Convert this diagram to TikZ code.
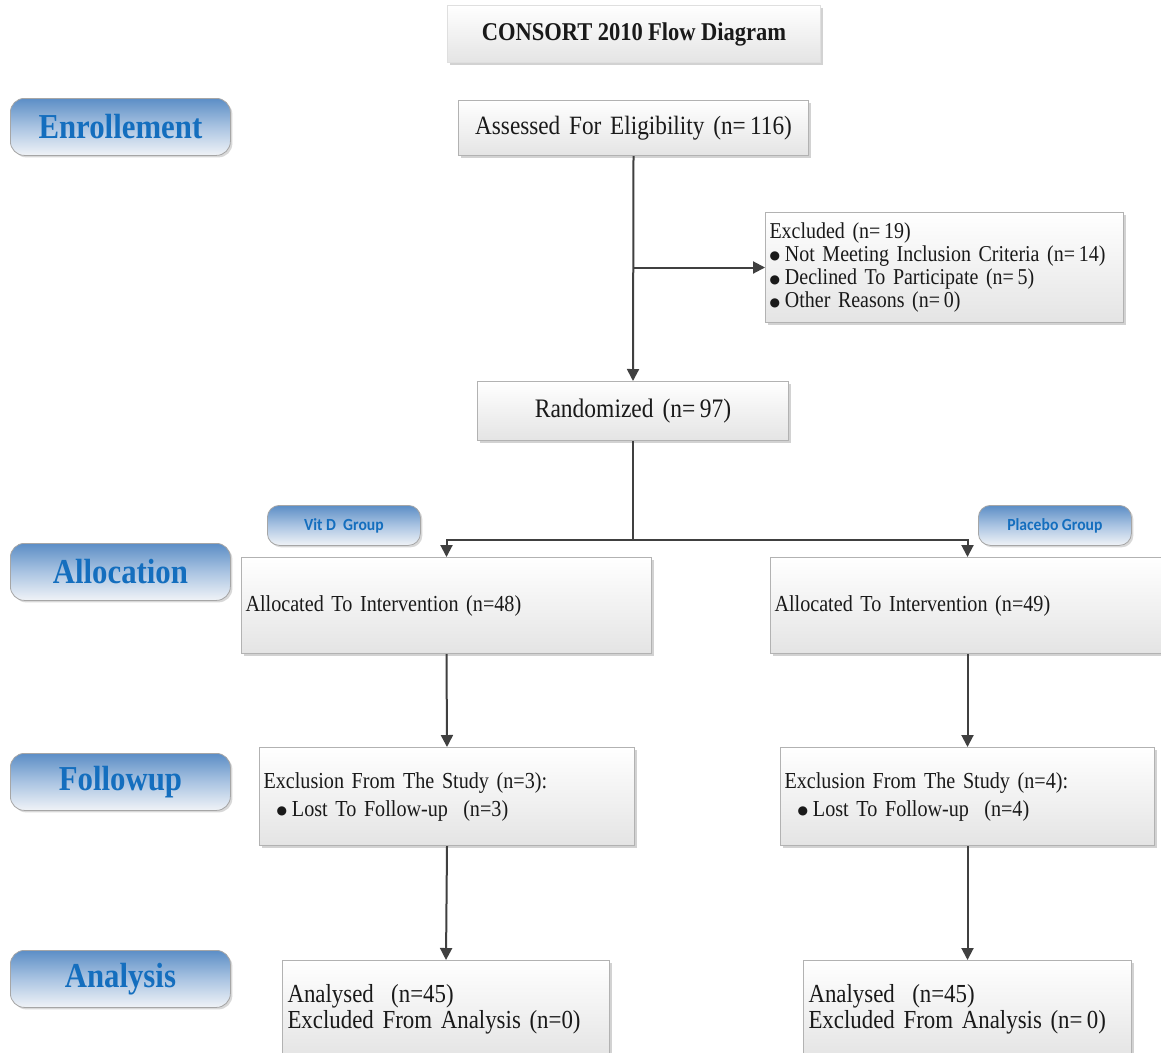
\documentclass[tikz,border=0pt]{standalone}
\usepackage{fontspec}
\setmainfont{Liberation Serif}[FakeStretch=0.88]
\newfontfamily\grpfont{Carlito}[FakeStretch=0.92]
\newfontfamily\symfont{DejaVu Sans}
\usetikzlibrary{arrows.meta,shadows}
\definecolor{labblue}{RGB}{20,110,190}
\definecolor{labtop}{RGB}{92,142,198}
\definecolor{labmid}{RGB}{170,196,226}
\definecolor{labbot}{RGB}{240,243,247}
\definecolor{linec}{RGB}{64,64,64}
\definecolor{boxbot}{RGB}{228,228,228}
\newcommand{\fs}[2]{\fontsize{#1pt}{#2pt}\selectfont\spaceskip=0.21em plus 0.05em minus 0.02em\relax}
\newcommand{\blt}{\raisebox{1.5pt}{\symfont\fontsize{12pt}{12pt}\selectfont ●}\hspace{5pt}}
\begin{document}
\begin{tikzpicture}[x=1pt,y=-1pt,
  flowbox/.style={draw=gray!60, line width=1pt, top color=white, bottom color=boxbot,
    drop shadow={shadow xshift=2pt, shadow yshift=-2pt, opacity=0.35, fill=gray},
    anchor=north west, inner xsep=4pt, inner ysep=0pt, align=left, text=black!90},
  stagelab/.style={draw=gray!70, line width=0.8pt, rounded corners=14pt,
    top color=labtop, bottom color=labbot, middle color=labmid,
    drop shadow={shadow xshift=2pt, shadow yshift=-2pt, opacity=0.3, fill=gray},
    anchor=north west, minimum width=220pt, minimum height=57pt, inner sep=0pt,
    text=labblue, font=\bfseries\fs{35}{38}},
  grplab/.style={draw=gray!70, line width=0.8pt, rounded corners=12pt,
    top color=labtop, bottom color=labbot, middle color=labmid,
    drop shadow={shadow xshift=2pt, shadow yshift=-2pt, opacity=0.3, fill=gray},
    anchor=north west, minimum width=153pt, minimum height=40pt, inner sep=0pt,
    text=labblue, font=\grpfont\bfseries\fs{17}{19}},
  arr/.style={draw=linec, line width=2pt, -{Triangle[length=12pt,width=12pt]}},
  ln/.style={draw=linec, line width=2pt}]
\clip (0,0) rectangle (1161,1052);
\fill[white] (0,0) rectangle (1161,1052);

% title
\node[flowbox, draw=gray!25, minimum width=373pt, minimum height=57pt, align=center,
  font=\bfseries\fs{25.6}{28}] (title) at (447,5) {CONSORT 2010 Flow Diagram};

% stage labels
\node[stagelab] (lenr) at (10,98) {Enrollement};
\node[stagelab] (lall) at (10,543) {Allocation};
\node[stagelab] (lfol) at (10,753) {Followup};
\node[stagelab] (lana) at (10,950) {Analysis};

% group labels
\node[grplab] (gvit) at (267,505) {Vit D\ \ Group};
\node[grplab] (gpla) at (978,505) {Placebo Group};

% boxes
\node[flowbox, minimum width=350pt, minimum height=55pt, text width=342pt, align=center,
  font=\fs{26.4}{30}] (assess) at (458,100) {Assessed For Eligibility (n=\,116)};

\node[flowbox, minimum width=358pt, minimum height=110pt, text width=350pt,
  font=\fs{22.7}{23.3}] (excl) at (765,212)
  {Excluded (n=\,19)\\
   \blt Not Meeting Inclusion Criteria (n=\,14)\\
   \blt Declined To Participate (n=\,5)\\
   \blt Other Reasons (n=\,0)};

\node[flowbox, minimum width=311pt, minimum height=59pt, text width=303pt, align=center,
  font=\fs{26.7}{30}] (rand) at (477,381) {Randomized (n=\,97)};

\node[flowbox, minimum width=410pt, minimum height=96pt, text width=402pt,
  font=\fs{22.9}{26}] (allocL) at (241,557) {Allocated To Intervention (n=48)};
\node[flowbox, minimum width=394pt, minimum height=96pt, text width=386pt,
  font=\fs{22.9}{26}] (allocR) at (770,557) {Allocated To Intervention (n=49)};

\node[flowbox, minimum width=375pt, minimum height=98pt, text width=367pt,
  font=\fs{22.9}{28}] (fuL) at (259,747)
  {Exclusion From The Study (n=3):\\
   \hspace*{13pt}\blt Lost To Follow-up\ \ (n=3)};
\node[flowbox, minimum width=374pt, minimum height=98pt, text width=366pt,
  font=\fs{22.9}{28}] (fuR) at (780,747)
  {Exclusion From The Study (n=4):\\
   \hspace*{13pt}\blt Lost To Follow-up\ \ (n=4)};

\node[flowbox, minimum width=327pt, minimum height=98pt, text width=317pt, inner xsep=5pt,
  font=\fs{26}{26}] (anL) at (282,960)
  {Analysed\ \ (n=45)\\Excluded From Analysis (n=0)};
\node[flowbox, minimum width=328pt, minimum height=98pt, text width=318pt, inner xsep=5pt,
  font=\fs{26}{26}] (anR) at (803,960)
  {Analysed\ \ (n=45)\\Excluded From Analysis (n=\,0)};

% connectors
\coordinate (br) at (assess.south |- excl.west);
\coordinate (split) at (rand.south |- 0,540);
\draw[arr] (assess.south) -- (rand.north);
\draw[arr] (br) -- (excl.west);
\draw[ln] (rand.south) -- (split);
\draw[arr] (split) -| (allocL.north);
\draw[arr] (split) -| (allocR.north);
\draw[arr] (allocL.south) -- (fuL.north);
\draw[arr] (allocR.south) -- (fuR.north);
\draw[arr] (fuL.south) -- (anL.north);
\draw[arr] (fuR.south) -- (anR.north);
\end{tikzpicture}
\end{document}
